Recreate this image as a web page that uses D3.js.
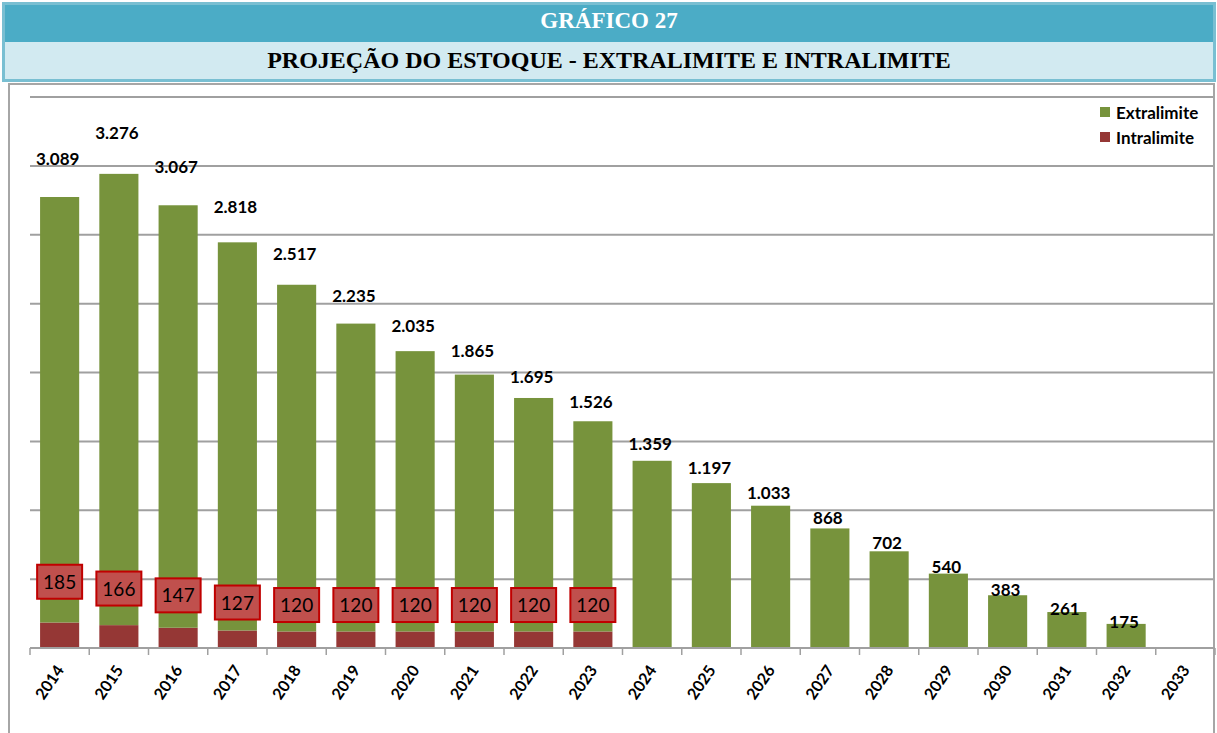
<!DOCTYPE html>
<html>
<head>
<meta charset="utf-8">
<script src="https://cdn.jsdelivr.net/npm/d3@7"></script>
<style>
  body { margin: 0; background: #fff; }
  svg { display: block; }
</style>
</head>
<body>
<div id="chart"></div>
<script>
var width = 1217;
var height = 733;

var years = ["2014","2015","2016","2017","2018","2019","2020","2021","2022","2023",
             "2024","2025","2026","2027","2028","2029","2030","2031","2032","2033"];
var extralimite = [3089, 3276, 3067, 2818, 2517, 2235, 2035, 1865, 1695, 1526,
                   1359, 1197, 1033, 868, 702, 540, 383, 261, 175, null];
var intralimite = [185, 166, 147, 127, 120, 120, 120, 120, 120, 120,
                   null, null, null, null, null, null, null, null, null, null];
var yTicks = [0, 500, 1000, 1500, 2000, 2500, 3000, 3500, 4000];

var labelFont = "Lato, 'Open Sans', sans-serif";

var dataset = years.map(function(y, i) {
  return {year: y, ext: extralimite[i] || 0, intra: intralimite[i] || 0,
          hasExt: extralimite[i] != null, hasIntra: intralimite[i] != null};
});

var svg = d3.select("#chart").append("svg")
  .attr("width", width)
  .attr("height", height);

// header bands
svg.append("rect").attr("x", 3.5).attr("y", 3.5).attr("width", 1211).attr("height", 77)
  .attr("fill", "#d2eaf1").attr("stroke", "#79bfd2").attr("stroke-width", 3);
svg.append("rect").attr("x", 5).attr("y", 5).attr("width", 1208).attr("height", 37)
  .attr("fill", "#4bacc6");
svg.append("text").attr("x", 609).attr("y", 28)
  .attr("text-anchor", "middle")
  .style("font-family", "'Liberation Serif', 'Times New Roman', serif")
  .style("font-weight", "bold").style("font-size", "23px").style("fill", "#fff")
  .text("GRÁFICO 27");
svg.append("text").attr("x", 609).attr("y", 68)
  .attr("text-anchor", "middle")
  .style("font-family", "'Liberation Serif', 'Times New Roman', serif")
  .style("font-weight", "bold").style("font-size", "24px").style("fill", "#000")
  .text("PROJEÇÃO DO ESTOQUE - EXTRALIMITE E INTRALIMITE");

// chart frame
svg.append("rect").attr("x", 9).attr("y", 84).attr("width", 1205).attr("height", 700)
  .attr("fill", "#fff").attr("stroke", "#a6a6a6").attr("stroke-width", 2);

var xScale = d3.scaleBand().domain(years).range([30, 1215]).paddingInner(0.34).paddingOuter(0.17);
var yScale = d3.scaleLinear().domain([0, 4000]).range([648, 97]);

// gridlines
svg.append("g").selectAll("line")
  .data(yTicks.slice(1))
  .enter().append("line")
  .attr("x1", 30).attr("x2", 1213)
  .attr("y1", function(d) { return yScale(d); })
  .attr("y2", function(d) { return yScale(d); })
  .attr("stroke", "#a0a0a0").attr("stroke-width", 2);

// bars - intralimite bottom, extralimite stacked
svg.append("g").selectAll("rect")
  .data(dataset.filter(function(d) { return d.hasIntra; }))
  .enter().append("rect")
  .attr("x", function(d) { return xScale(d.year); })
  .attr("width", xScale.bandwidth())
  .attr("y", function(d) { return yScale(d.intra); })
  .attr("height", function(d) { return yScale(0) - yScale(d.intra); })
  .style("fill", "#953735");

svg.append("g").selectAll("rect")
  .data(dataset.filter(function(d) { return d.hasExt; }))
  .enter().append("rect")
  .attr("x", function(d) { return xScale(d.year); })
  .attr("width", xScale.bandwidth())
  .attr("y", function(d) { return yScale(d.intra + d.ext); })
  .attr("height", function(d) { return yScale(d.intra) - yScale(d.intra + d.ext); })
  .style("fill", "#77933c");

// x axis line and ticks at band edges
svg.append("line").attr("x1", 30).attr("x2", 1215).attr("y1", 648).attr("y2", 648)
  .attr("stroke", "#a0a0a0").attr("stroke-width", 2);
svg.append("g").selectAll("line")
  .data(years.concat(["end"]))
  .enter().append("line")
  .attr("x1", function(d, i) { return 30 + i * xScale.step(); })
  .attr("x2", function(d, i) { return 30 + i * xScale.step(); })
  .attr("y1", 648).attr("y2", 655)
  .attr("stroke", "#a0a0a0").attr("stroke-width", 1.5);

svg.append("g").selectAll("text")
  .data(years)
  .enter().append("text")
  .attr("text-anchor", "end")
  .attr("transform", function(d) {
    return "translate(" + (xScale(d) + xScale.bandwidth() / 2 + 5) + ",670) rotate(-56)";
  })
  .style("font-family", labelFont)
  .style("font-weight", "bold").style("font-size", "16px").style("fill", "#000")
  .text(function(d) { return d; });

// extralimite labels
var fmt = function(v) { return d3.format(",")(v).replace(/,/g, "."); };
svg.append("g").selectAll("text")
  .data(dataset.filter(function(d) { return d.hasExt; }))
  .enter().append("text")
  .attr("text-anchor", "middle")
  .attr("x", function(d) { return xScale(d.year) + xScale.bandwidth() / 2 - 2; })
  .attr("y", function(d) { return yScale(d.intra + d.ext * 1.09) + 6; })
  .style("font-family", labelFont)
  .style("font-weight", "bold").style("font-size", "17px").style("fill", "#000")
  .text(function(d) { return fmt(d.ext); });

// intralimite label boxes
var boxes = svg.append("g").selectAll("g")
  .data(dataset.filter(function(d) { return d.hasIntra; }))
  .enter().append("g")
  .attr("transform", function(d) {
    return "translate(" + (xScale(d.year) + xScale.bandwidth() / 2) + "," + yScale(d.intra * 2.6) + ")";
  });
boxes.append("rect")
  .attr("x", -22.5).attr("y", -17).attr("width", 45).attr("height", 34)
  .style("fill", "#c0504d").style("stroke", "#c00000").style("stroke-width", 2);
boxes.append("text")
  .attr("text-anchor", "middle").attr("y", 7)
  .style("font-family", labelFont)
  .style("font-size", "19px").style("fill", "#000")
  .text(function(d) { return d.intra; });

// legend
var legend = svg.append("g").attr("transform", "translate(1100,107)");
var legendItems = [{name: "Extralimite", color: "#77933c"}, {name: "Intralimite", color: "#953735"}];
legendItems.forEach(function(item, i) {
  legend.append("rect").attr("x", 0).attr("y", i * 25).attr("width", 10).attr("height", 10)
    .style("fill", item.color);
  legend.append("text").attr("x", 16).attr("y", i * 25 + 12)
    .style("font-family", labelFont)
    .style("font-weight", "bold").style("font-size", "17px").style("fill", "#000")
    .text(item.name);
});
</script>
</body>
</html>
